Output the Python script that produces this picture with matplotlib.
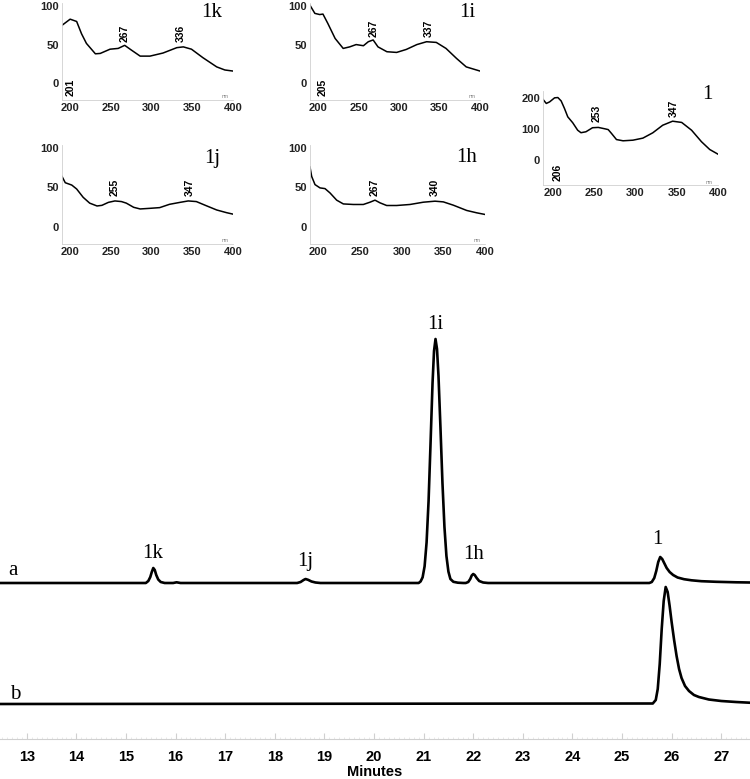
import numpy as np
import matplotlib.pyplot as plt
from matplotlib.ticker import MultipleLocator

# cromatograma a (minutos, senal sobre la linea base)
t_a = [12.4, 15.4, 15.45, 15.49, 15.52, 15.55, 15.58, 15.61, 15.65, 15.7, 15.78, 15.95, 16.02, 16.1,
       18.45, 18.52, 18.58, 18.62, 18.67, 18.74, 18.82, 18.92,
       20.9, 20.94, 20.98, 21.02, 21.06, 21.1, 21.14, 21.18, 21.21, 21.24, 21.27, 21.3,
       21.34, 21.38, 21.42, 21.46, 21.5, 21.54, 21.6, 21.69, 21.8,
       21.85, 21.9, 21.94, 21.97, 22.0, 22.03, 22.07, 22.12, 22.2, 22.3,
       25.55, 25.6, 25.65, 25.69, 25.73, 25.77, 25.81, 25.85, 25.9, 25.96, 26.03, 26.12,
       26.25, 26.4, 26.6, 26.9, 27.3, 27.6]
y_a = [0, 0, 2, 6, 11, 15, 13, 8, 3.5, 1, 0, 0, 0.7, 0,
       0, 1, 3, 4, 3.2, 1.5, 0.5, 0,
       0, 1.6, 5.7, 16.7, 40.6, 82, 140, 200, 232, 244, 234, 207,
       155, 100, 56, 27, 11.4, 4, 1.2, 0.3, 0,
       0, 1, 4, 7.5, 9, 8, 5, 2, 0.5, 0,
       0, 1, 5, 12, 21, 26, 24, 20, 15, 11, 8, 5.5,
       3.8, 2.7, 1.8, 1.2, 0.7, 0.5]

# cromatograma b
t_b = [12.4, 25.62, 25.68, 25.72, 25.76, 25.8, 25.84, 25.88, 25.92, 25.96, 26.0, 26.05, 26.1,
       26.15, 26.2, 26.27, 26.35, 26.45, 26.55, 26.75, 27.0, 27.3, 27.6]
y_b = [0, 0.5, 4, 15, 40, 75, 103, 117, 112, 98, 82, 64, 48,
       35, 26, 18, 13, 9, 7, 4.5, 3, 2, 1.2]

minutos = list(range(13, 28))

# espectros UV (nm, absorbancia)
nm_1k = [190, 200, 208, 214, 220, 231, 237, 249, 259, 267, 275, 286, 298, 314, 331, 339, 349, 363, 380, 390, 400]
ab_1k = [75, 83, 80, 64, 51.5, 38, 38.5, 44, 45, 49, 43, 35, 35, 39, 46, 47, 44, 33, 21, 17, 15.6]

nm_1i = [190, 196, 202, 206, 212, 221, 231, 239, 247, 256, 262, 268, 274, 285, 297, 309, 322, 334, 346, 358, 371, 383, 400]
ab_1i = [101, 90.5, 89, 89.6, 77.5, 58, 45, 47, 50, 48.5, 53.7, 56, 47, 40.7, 39.8, 43.7, 50, 53.7, 52.8, 45, 32, 21, 15.6]

nm_1j = [190, 194, 202, 208, 216, 224, 233, 239, 247, 255, 263, 269, 278, 286, 298, 310, 322, 335, 345, 355, 367, 380, 392, 400]
ab_1j = [64, 56, 53, 48, 37.4, 30, 26.4, 27.2, 31, 32.8, 32, 30, 24.7, 22.6, 23.4, 24.3, 28.5, 31, 32.8, 32, 26.8, 21.3, 17.9, 16]

nm_1h = [190, 192, 196, 202, 208, 214, 222, 230, 242, 254, 262, 268, 274, 282, 294, 310, 326, 340, 350, 362, 378, 390, 400]
ab_1h = [76, 64, 53.6, 49.4, 48.5, 43, 33.8, 29, 28.3, 28.3, 31.2, 33.8, 30.4, 27, 27, 28.3, 31.2, 32.5, 31.6, 27.4, 20.7, 17.7, 15.6]

nm_1 = [188, 192, 196, 202, 206, 210, 214, 218, 224, 230, 234, 240, 248, 255, 263, 267, 271, 277, 285, 297,
        309, 321, 333, 345, 356, 368, 380, 390, 400]
ab_1 = [195, 182, 187, 200, 201, 190, 166, 139, 120, 96, 88, 91, 104, 105, 100.5, 98, 85.6, 66, 62, 64,
        70.6, 87.7, 112, 125, 121, 96, 59, 34, 19]

W, H = 750, 779
serif = ['Liberation Serif', 'DejaVu Serif']
sans = ['Liberation Sans', 'DejaVu Sans']
gris = '#d0d0d0'


def caja(x0, y0, x1, y1):
    # caja en pixeles -> fraccion de figura
    return [x0 / W, 1 - y1 / H, (x1 - x0) / W, (y1 - y0) / H]


def espectro(fig, pos, nm, ab, xlim, ylim, yt, etiqueta, et_pos, picos, nm_pos):
    ax = fig.add_axes(caja(*pos))
    ax.plot(nm, ab, color='black', lw=1.1)
    ax.set_xlim(xlim)
    ax.set_ylim(ylim)
    ax.set_xticks([200, 250, 300, 350, 400])
    ax.set_yticks(yt)
    ax.spines['top'].set_visible(False)
    ax.spines['right'].set_visible(False)
    ax.spines['left'].set_color(gris)
    ax.spines['bottom'].set_color(gris)
    ax.spines['left'].set_linewidth(0.6)
    ax.spines['bottom'].set_linewidth(0.6)
    ax.tick_params(length=0, pad=2)
    for lab in ax.get_xticklabels() + ax.get_yticklabels():
        lab.set_fontfamily(sans)
        lab.set_fontweight('bold')
        lab.set_fontsize(8)
        lab.set_color('#222222')
    ax.text(et_pos[0], et_pos[1], etiqueta, family=serif, fontsize=15, ha='center', va='baseline')
    for (x, y, s) in picos:
        ax.text(x, y, s, family=sans, fontweight='bold', fontsize=7.5, rotation=90, ha='center', va='center')
    ax.text(nm_pos[0], nm_pos[1], 'nm', family=sans, fontsize=3.5, color='#777777', ha='center', va='center')
    return ax


fig = plt.figure(figsize=(7.5, 7.79), dpi=100)

# grafica principal
plano = fig.add_axes(caja(0, 300, 750, 739))
base_a = 156
base_b = 35
plano.plot(t_a, np.array(y_a) + base_a, color='black', lw=1.9, solid_joinstyle='round')
plano.plot(t_b, np.array(y_b) + base_b, color='black', lw=1.9, solid_joinstyle='round')
plano.set_xlim(12.46, 27.58)
plano.set_ylim(0, 439)
plano.set_yticks([])
plano.set_xticks(minutos)
plano.xaxis.set_minor_locator(MultipleLocator(0.1))
plano.spines['top'].set_visible(False)
plano.spines['right'].set_visible(False)
plano.spines['left'].set_visible(False)
plano.spines['bottom'].set_color(gris)
plano.tick_params(axis='x', which='major', direction='in', length=4, width=0.8, color=gris, pad=8)
plano.tick_params(axis='x', which='minor', direction='in', length=1.5, width=0.5, color='#e2e2e2')
for lab in plano.get_xticklabels():
    lab.set_fontfamily(sans)
    lab.set_fontweight('bold')
    lab.set_fontsize(10.5)
plano.set_xlabel('Minutes', family=sans, fontweight='bold', fontsize=10.5, labelpad=1)

# etiquetas de los picos
for (x, y, s) in [(15.53, 181, '1k'), (18.61, 173, '1j'), (21.23, 410, '1i'),
                  (22.0, 180, '1h'), (25.72, 195, '1'), (12.73, 164, 'a'), (12.76, 40, 'b')]:
    plano.text(x, y, s, family=serif, fontsize=15, ha='center', va='baseline')

# espectros
espectro(fig, (62, 3, 233, 100), nm_1k, ab_1k, (190, 400), (-22, 104), [0, 50, 100], '1k', (374, 86),
         [(267, 65, '267'), (336, 65, '336'), (201, -6, '201')], (390, -18))
espectro(fig, (310, 3, 480, 100), nm_1i, ab_1i, (190, 400), (-22, 104), [0, 50, 100], '1i', (384, 86),
         [(268, 71, '267'), (337, 71, '337'), (205, -5, '205')], (390, -18))
espectro(fig, (62, 145, 233, 244), nm_1j, ab_1j, (190, 400), (-22, 104), [0, 50, 100], '1j', (374, 81),
         [(255, 50, '255'), (347, 50, '347')], (390, -18))
espectro(fig, (310, 145, 485, 244), nm_1h, ab_1h, (190, 400), (-22, 104), [0, 50, 100], '1h', (378, 83),
         [(267, 50, '267'), (340, 50, '340')], (390, -18))
espectro(fig, (543, 91, 718, 185), nm_1, ab_1, (188, 400), (-80, 222), [0, 100, 200], '1', (387, 196),
         [(253, 151, '253'), (347, 167, '347'), (206, -39, '206')], (389, -71))

plt.savefig('out.png', dpi=100)
